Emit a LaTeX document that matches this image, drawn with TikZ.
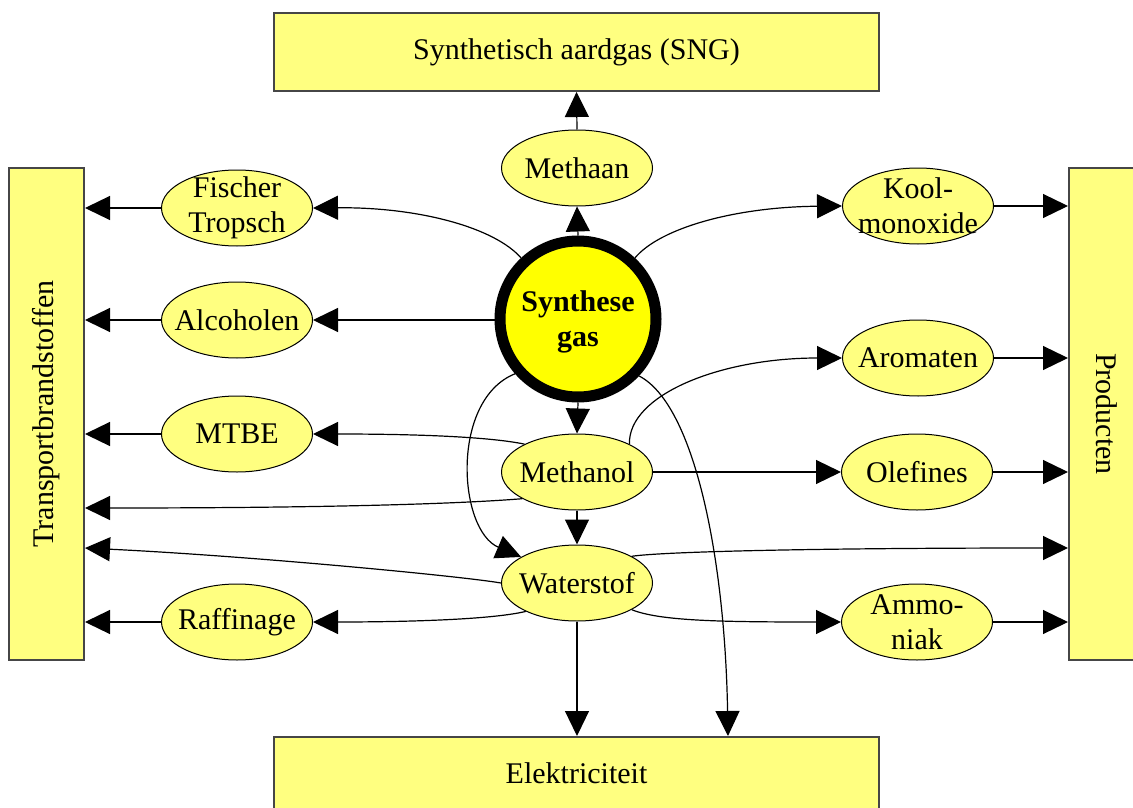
\documentclass[tikz,border=0pt]{standalone}
\usepackage{fontspec}
\setmainfont{Liberation Serif}
\usetikzlibrary{arrows.meta,shapes.geometric}
\definecolor{lyellow}{RGB}{255,255,128}
\definecolor{boxgray}{RGB}{70,70,70}
\definecolor{sgyellow}{RGB}{255,255,0}
\begin{document}
\begin{tikzpicture}[x=1pt,y=-1pt,
  txt/.style={font=\fontsize{30}{35}\selectfont, align=center, inner sep=0pt},
  ell/.style={ellipse, draw, line width=1pt, fill=lyellow, minimum width=151pt, minimum height=76pt, inner sep=0pt},
  bigbox/.style={rectangle, draw=boxgray, line width=2pt, fill=lyellow, inner sep=0pt},
  conn/.style={line width=1.2pt, -{Triangle[length=25pt,width=24pt]}}]
\useasboundingbox (0,0) rectangle (1133,808);

% big boxes
\node[bigbox, minimum width=605pt, minimum height=78pt, label={[txt]center:Synthetisch aardgas (SNG)}] (sng) at (576.5,52) {};
\node[bigbox, minimum width=605pt, minimum height=72pt, label={[txt]center:Elektriciteit}] (elek) at (576.5,773) {};
\node[bigbox, minimum width=75pt, minimum height=492pt, label={[txt,rotate=90]center:Transportbrandstoffen}] (transport) at (46.5,414) {};
\node[bigbox, minimum width=75pt, minimum height=492pt, label={[txt,rotate=-90]center:Producten}] (producten) at (1106.5,414) {};

% central circle
\node[circle, draw, line width=11pt, fill=sgyellow, minimum size=156pt, inner sep=0pt,
      label={[txt,font=\fontsize{30}{35}\selectfont\bfseries,yshift=-3pt]center:{Synthese\\gas}}] (sg) at (578,319) {};

% ellipses
\node[ell, label={[txt]center:Methaan}] (methaan) at (577,168) {};
\node[ell, label={[txt]center:{Fischer\\Tropsch}}] (ft) at (237,208) {};
\node[ell, label={[txt]center:Alcoholen}] (alc) at (237,320) {};
\node[ell, label={[txt]center:MTBE}] (mtbe) at (237,434) {};
\node[ell, label={[txt]center:Raffinage}] (raf) at (237,622) {};
\node[ell, label={[txt]center:Methanol}] (methanol) at (577,472) {};
\node[ell, label={[txt]center:Waterstof}] (water) at (577,583) {};
\node[ell, label={[txt]center:{Kool-\\monoxide}}] (kool) at (918,206) {};
\node[ell, label={[txt]center:Aromaten}] (arom) at (918,358) {};
\node[ell, label={[txt]center:Olefines}] (olef) at (917,472) {};
\node[ell, label={[txt]center:{Ammo-\\niak}}] (ammo) at (917,622) {};

% free ends on boxes
\coordinate (t4) at (85,508);
\coordinate (t5) at (85,548);
\coordinate (p5) at (1068,548);
\coordinate (e2) at (728,736);

% straight vertical connectors
\draw[conn] (methaan.north) -- (sng.south);
\draw[conn] (sg.north) -- (methaan.south);
\draw[conn] (sg.south) -- (methanol.north);
\draw[conn] (methanol.south) -- (water.north);
\draw[conn] (water.south) -- (water.south |- elek.north);

% left side: to transport
\draw[conn] (ft.west) -- (ft.west -| transport.east);
\draw[conn] (alc.west) -- (alc.west -| transport.east);
\draw[conn] (mtbe.west) -- (mtbe.west -| transport.east);
\draw[conn] (raf.west) -- (raf.west -| transport.east);

% right side: to producten
\draw[conn] (kool.east) -- (kool.east -| producten.west);
\draw[conn] (arom.east) -- (arom.east -| producten.west);
\draw[conn] (olef.east) -- (olef.east -| producten.west);
\draw[conn] (ammo.east) -- (ammo.east -| producten.west);

% from synthese gas
\draw[conn] (sg.133) .. controls (495,228) and (420,207) .. (ft.east);
\draw[conn] (sg.47) .. controls (660,228) and (735,207) .. (kool.west);
\draw[conn] (sg.west |- alc.east) -- (alc.east);
\draw[conn] (sg.-43) .. controls (695,405) and (725,560) .. (e2);
\draw[conn] (sg.221) .. controls (450,400) and (458,530) .. (water.155);

% from methanol
\draw[conn] (methanol.152) .. controls (490,437) and (420,434) .. (mtbe.east);
\draw[conn] (methanol.206) .. controls (470,503) and (350,508) .. (t4);
\draw[conn] (methanol.28) .. controls (628,395) and (720,358) .. (arom.west);
\draw[conn] (methanol.east) -- (olef.west);

% from waterstof
\draw[conn] (water.west) .. controls (460,576) and (250,556) .. (t5);
\draw[conn] (water.209) .. controls (490,620) and (400,622) .. (raf.east);
\draw[conn] (water.26) .. controls (660,552) and (800,548) .. (p5);
\draw[conn] (water.-26) .. controls (660,621) and (720,622) .. (ammo.west);
\end{tikzpicture}
\end{document}
